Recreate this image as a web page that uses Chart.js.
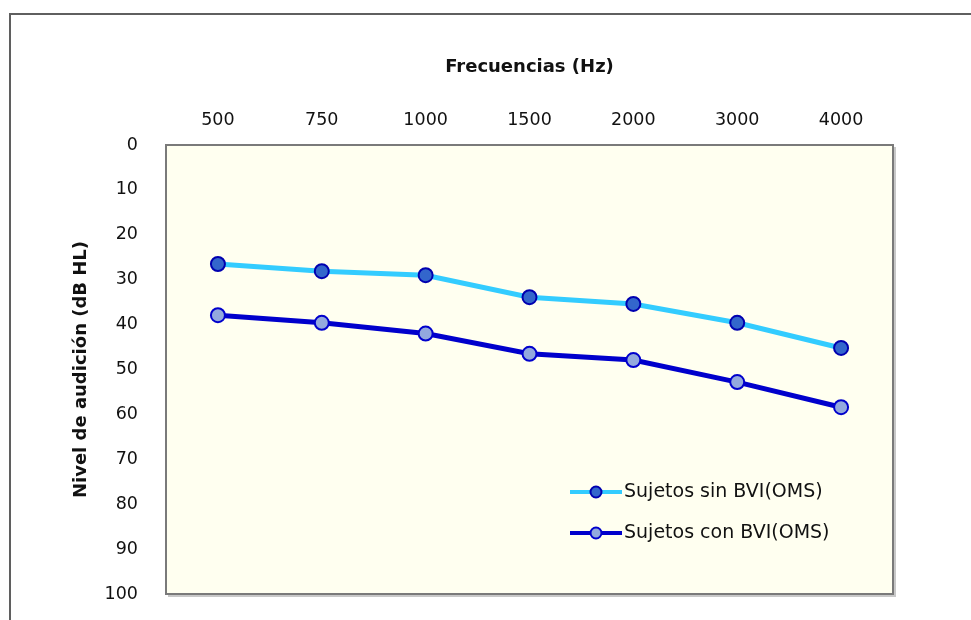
<!DOCTYPE html>
<html>
<head>
<meta charset="utf-8">
<script src="https://cdn.jsdelivr.net/npm/chart.js@4.4.0/dist/chart.umd.min.js"></script>
<style>
html, body { margin: 0; padding: 0; background: #fff; }
</style>
</head>
<body>
<canvas id="myChart" width="971" height="620"></canvas>
<script>
// audiometria - umbral medio por frecuencia
var frequencies = ["500", "750", "1000", "1500", "2000", "3000", "4000"];
var sinBVI = [26.5, 28.1, 29.0, 33.9, 35.4, 39.6, 45.2];
var conBVI = [37.9, 39.6, 42.0, 46.5, 47.9, 52.8, 58.4];
var seriesNames = ["Sujetos sin BVI(OMS)", "Sujetos con BVI(OMS)"];

var fontFamily = "'DejaVu Sans', sans-serif";

var framePlugin = {
  id: "frame",
  beforeDraw: function(chart) {
    var ctx = chart.ctx, a = chart.chartArea;
    ctx.save();
    ctx.fillStyle = "#fff";
    ctx.fillRect(0, 0, chart.width, chart.height);
    ctx.strokeStyle = "#5f5f5f";
    ctx.lineWidth = 2;
    ctx.strokeRect(10, 14, 1200, 1200);
    ctx.fillStyle = "#fffff0";
    ctx.fillRect(a.left, a.top, a.right - a.left, a.bottom - a.top);
    ctx.restore();
  },
  beforeDatasetsDraw: function(chart) {
    var ctx = chart.ctx, a = chart.chartArea;
    ctx.save();
    ctx.strokeStyle = "#c8c8c8";
    ctx.lineWidth = 2;
    ctx.beginPath();
    ctx.moveTo(a.right + 2, a.top + 2);
    ctx.lineTo(a.right + 2, a.bottom + 2);
    ctx.lineTo(a.left + 2, a.bottom + 2);
    ctx.stroke();
    ctx.strokeStyle = "#7a7a7a";
    ctx.strokeRect(a.left, a.top, a.right - a.left, a.bottom - a.top);
    ctx.restore();
  }
};

var legendPlugin = {
  id: "inlineLegend",
  afterDraw: function(chart) {
    var ctx = chart.ctx;
    var x0 = 570, y0 = 492, rowGap = 41;
    ctx.save();
    chart.data.datasets.forEach(function(ds, i) {
      var y = y0 + i * rowGap;
      ctx.strokeStyle = ds.borderColor;
      ctx.lineWidth = 4;
      ctx.beginPath();
      ctx.moveTo(x0, y);
      ctx.lineTo(x0 + 52, y);
      ctx.stroke();
      ctx.beginPath();
      ctx.arc(x0 + 26, y, 5.5, 0, Math.PI * 2);
      ctx.fillStyle = ds.pointBackgroundColor;
      ctx.fill();
      ctx.lineWidth = 2;
      ctx.strokeStyle = ds.pointBorderColor;
      ctx.stroke();
      ctx.fillStyle = "#111";
      ctx.font = "19px " + fontFamily;
      ctx.textBaseline = "middle";
      ctx.textAlign = "left";
      ctx.fillText(ds.label, x0 + 54, y);
    });
    ctx.restore();
  }
};

var ctx = document.getElementById("myChart").getContext("2d");
var myChart = new Chart(ctx, {
  type: "line",
  data: {
    labels: frequencies,
    datasets: [{
      label: seriesNames[0],
      data: sinBVI,
      borderColor: "#33ccff",
      borderWidth: 5,
      pointBackgroundColor: "#3366cc",
      pointBorderColor: "#0000b0",
      pointBorderWidth: 2,
      pointRadius: 7,
      tension: 0
    }, {
      label: seriesNames[1],
      data: conBVI,
      borderColor: "#0000cc",
      borderWidth: 5,
      pointBackgroundColor: "#93a9de",
      pointBorderColor: "#0000cc",
      pointBorderWidth: 2,
      pointRadius: 7,
      tension: 0
    }]
  },
  options: {
    responsive: false,
    animation: false,
    devicePixelRatio: 1,
    layout: { padding: { right: 78, bottom: 26 } },
    plugins: {
      legend: { display: false },
      tooltip: { enabled: false }
    },
    scales: {
      x: {
        type: "category",
        position: "top",
        offset: true,
        grid: { display: false },
        border: { display: false },
        ticks: { color: "#111", padding: 6, font: { family: fontFamily, size: 17.5 } },
        title: {
          display: true,
          text: "Frecuencias (Hz)",
          color: "#111",
          padding: { top: 57, bottom: 0 },
          font: { family: fontFamily, size: 18, weight: "bold" }
        },
        afterFit: function(scale) { scale.height = 145; }
      },
      y: {
        reverse: true,
        min: 0,
        max: 100,
        grid: { display: false },
        border: { display: false },
        ticks: { stepSize: 10, color: "#111", padding: 20, font: { family: fontFamily, size: 17.5 } },
        title: {
          display: true,
          text: "Nivel de audición (dB HL)",
          color: "#111",
          padding: { top: 71, bottom: 0 },
          font: { family: fontFamily, size: 18, weight: "bold" }
        },
        afterFit: function(scale) {
          scale.width = 166;
          scale.paddingTop = 0;
          scale.paddingBottom = 0;
        }
      }
    }
  },
  plugins: [framePlugin, legendPlugin]
});
</script>
</body>
</html>
